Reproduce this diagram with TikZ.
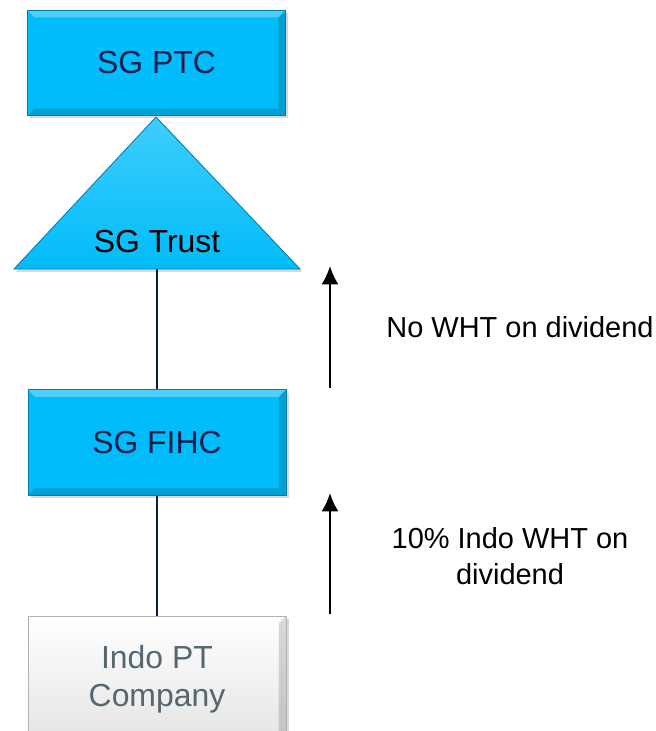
\documentclass[tikz,border=0pt]{standalone}
\usepackage{fontspec}
\setmainfont{Liberation Sans}
\usetikzlibrary{arrows.meta,shadows}

\definecolor{sgblue}{RGB}{0,188,250}
\definecolor{sgedge}{RGB}{0,125,175}
\definecolor{navy}{RGB}{18,30,72}
\definecolor{slate}{RGB}{84,102,112}

\begin{document}
\begin{tikzpicture}
        [box/.style={draw=sgedge, line width=0.6pt, fill=sgblue, minimum width=6.45cm, minimum height=2.63cm,
            font=\fontsize{22.7}{27}\selectfont, text=navy,
            drop shadow={opacity=0.3, shadow xshift=0.07cm, shadow yshift=-0.07cm},
            path picture={
              \fill[white, opacity=0.3] (path picture bounding box.north west) -- (path picture bounding box.north east)
                -- ([xshift=-5pt,yshift=-5pt]path picture bounding box.north east) -- ([xshift=5pt,yshift=-5pt]path picture bounding box.north west) -- cycle;
              \fill[black, opacity=0.15] (path picture bounding box.south west) -- (path picture bounding box.south east)
                -- (path picture bounding box.north east) -- ([xshift=-5pt,yshift=-5pt]path picture bounding box.north east)
                -- ([xshift=-5pt,yshift=5pt]path picture bounding box.south east) -- ([xshift=5pt,yshift=5pt]path picture bounding box.south west) -- cycle;
            }},
        greybox/.style={box, draw=gray!60, top color=white, bottom color=gray!22, text=slate, align=center,
            font=\fontsize{22.7}{27.5}\selectfont},
        trustshape/.style={draw=sgedge, line width=0.6pt, top color=sgblue!75!white, bottom color=sgblue,
            drop shadow={opacity=0.3, shadow xshift=0.05cm, shadow yshift=-0.07cm}},
        link/.style={navy, line width=1.4pt},
        flow/.style={-{Latex[length=13pt,width=12pt]}, line width=1.4pt, black},
        note/.style={font=\fontsize{20.6}{25.5}\selectfont, align=center}]

        \useasboundingbox (0,0) rectangle (16.4,-18.275);

        % trust triangle sits under the trustee box
        \draw[trustshape] (3.9,-2.925) -- (7.5,-6.725) -- (0.35,-6.725) -- cycle;
        \coordinate (trustbase) at (3.925,-6.725);

        \node[box] (ptc) at (3.9125,-1.575) {SG PTC};
        \node[font=\fontsize{22.7}{27}\selectfont] (trust) at (3.925,-6.05) {SG Trust};
        \node[box] (fihc) at (3.925,-11.0625) {SG FIHC};
        \node[greybox, minimum height=3.3cm] (indo) at (3.925,-17.05) {};
        \node[text=slate, align=center, font=\fontsize{22.7}{27.5}\selectfont] (indotext) at (3.925,-16.98) {Indo PT\\Company};

        % ownership lines
        \draw[link] (trustbase) -- (fihc.north);
        \draw[link] (fihc.south) -- (indo.north);

        % dividend flows
        \coordinate (up1s) at (8.25,-9.7);
        \coordinate (up1e) at (8.25,-6.65);
        \coordinate (up2s) at (8.25,-15.35);
        \coordinate (up2e) at (8.25,-12.325);
        \draw[flow] (up1s) -- (up1e);
        \draw[flow] (up2s) -- (up2e);

        \node[note] (nowht) at (13.0,-8.175) {No WHT on dividend};
        \node[note] (indowht) at (12.75,-13.9) {10\% Indo WHT on\\dividend};

\end{tikzpicture}
\end{document}
